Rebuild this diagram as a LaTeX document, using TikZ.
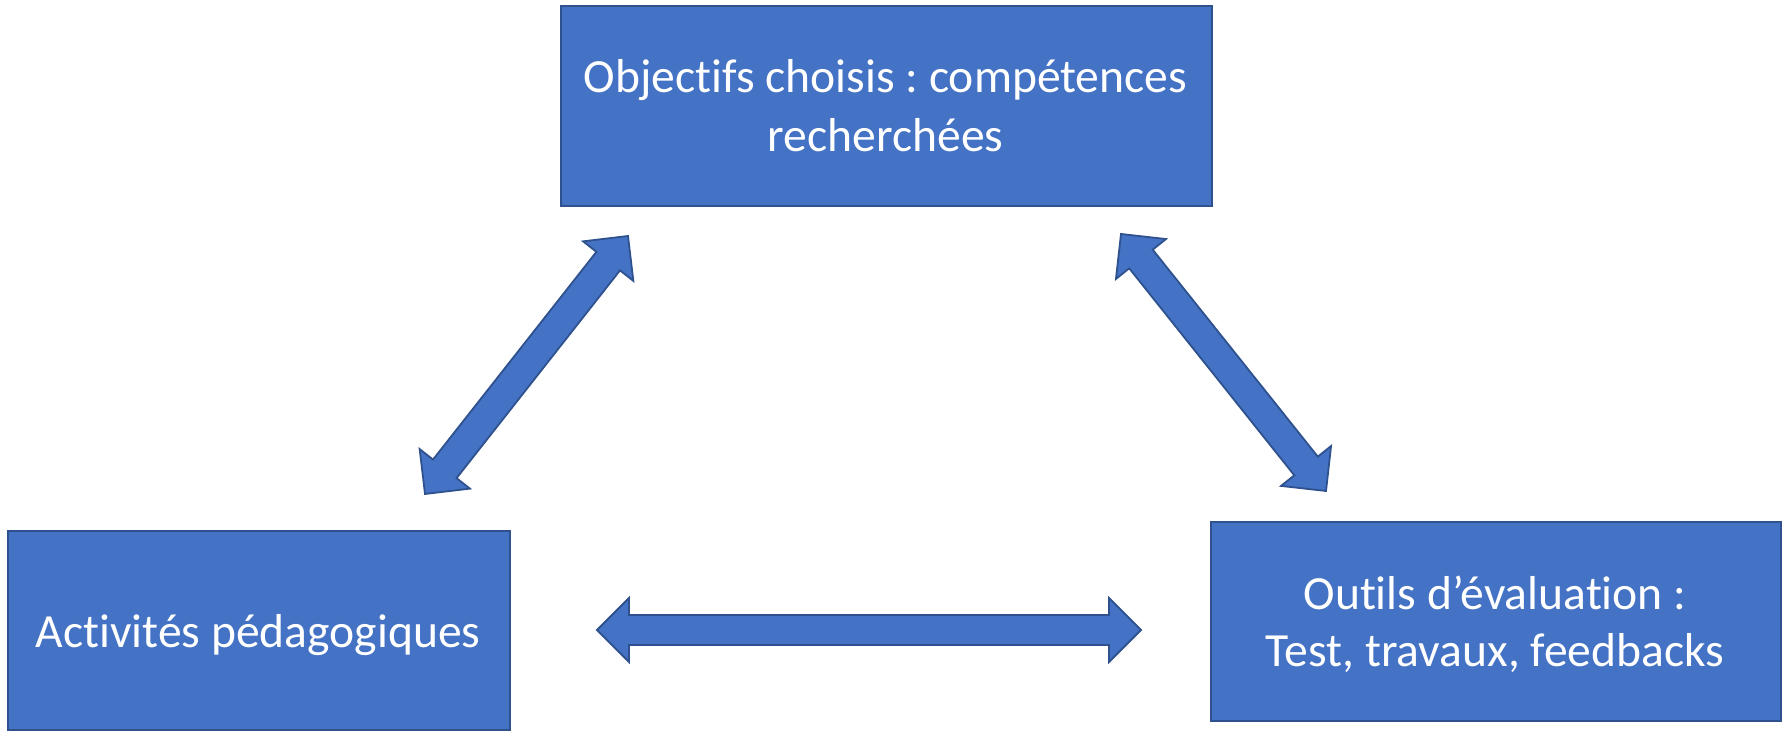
\documentclass[tikz,border=0pt]{standalone}
\usepackage{fontspec}
\setmainfont{Carlito}[RawFeature={-liga}]
\usetikzlibrary{calc}
\definecolor{boxfill}{HTML}{4472C4}
\definecolor{boxline}{HTML}{2F528F}
\newcommand{\arrH}{16pt}
\newcommand{\arrW}{16pt}
\newcommand{\arrS}{7.5pt}
\newcommand{\dblarrow}[2]{%
  \draw[blockarrow] (#1)
    -- ($(#1)!\arrH!(#2)!\arrW!90:(#2)$)
    -- ($(#1)!\arrH!(#2)!\arrS!90:(#2)$)
    -- ($(#2)!\arrH!(#1)!\arrS!-90:(#1)$)
    -- ($(#2)!\arrH!(#1)!\arrW!-90:(#1)$)
    -- (#2)
    -- ($(#2)!\arrH!(#1)!\arrW!90:(#1)$)
    -- ($(#2)!\arrH!(#1)!\arrS!90:(#1)$)
    -- ($(#1)!\arrH!(#2)!\arrS!-90:(#2)$)
    -- ($(#1)!\arrH!(#2)!\arrW!-90:(#2)$)
    -- cycle;}
\begin{document}
\frenchspacing
\begin{tikzpicture}[x=0.5pt,y=0.5pt,
  box/.style={draw=boxline, fill=boxfill, line width=0.9pt, inner sep=0pt, anchor=south west},
  lbl/.style={text=white, font=\fontsize{23.8}{28}\selectfont, inner sep=0pt, anchor=base},
  blockarrow/.style={draw=boxline, fill=boxfill, line width=0.9pt, line join=miter}]
\useasboundingbox (0,0) rectangle (1787,731);

% boxes
\node[box, minimum width=325.5pt, minimum height=100pt] (top) at (560,524) {};
\node[box, minimum width=251pt, minimum height=99.5pt] (left) at (7,0) {};
\node[box, minimum width=285pt, minimum height=99.5pt] (right) at (1210,9) {};

% labels
\node[lbl] (t1) at (885.5,638) {Objectifs choisis : compétences};
\node[lbl] (t2) at (885.5,579) {recherchées};
\node[lbl] (l1) at (258,83) {Activités pédagogiques};
\node[lbl] (r1) at (1495,121) {Outils d’évaluation :};
\node[lbl] (r2) at (1495,64) {Test, travaux, feedbacks};

% arrow end points
\coordinate (la1) at (425,237);
\coordinate (la2) at (628,495);
\coordinate (ra1) at (1121,497);
\coordinate (ra2) at (1326,240);
\coordinate (ha1) at (597,101);
\coordinate (ha2) at (1141,101);

\dblarrow{la1}{la2}
\dblarrow{ra1}{ra2}
\dblarrow{ha1}{ha2}
\end{tikzpicture}
\end{document}
